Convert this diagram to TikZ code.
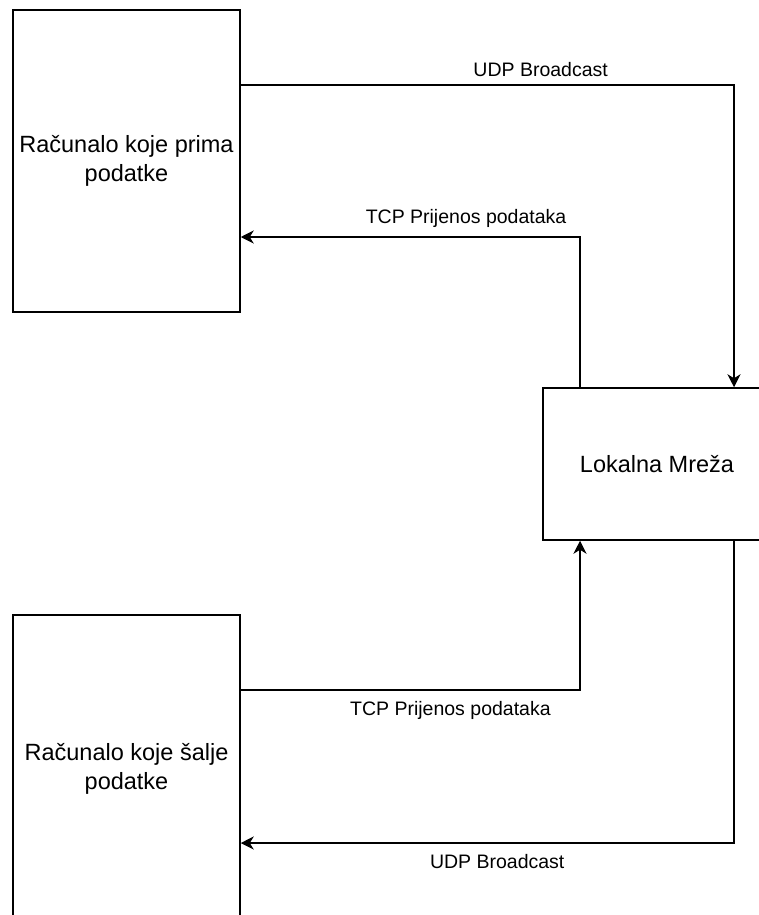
\documentclass[tikz,border=0pt]{standalone}
\usepackage{fontspec}
\setmainfont{Liberation Sans}
\usetikzlibrary{arrows.meta}
\tikzset{
  box/.style={draw, line width=1.5pt, align=center, inner sep=2pt, font=\fontsize{23.5}{28.5}\selectfont},
  link/.style={line width=1.5pt, -{Stealth[length=13pt,width=13pt,inset=4pt]}},
  lbl/.style={font=\fontsize{19.5}{22}\selectfont, inner sep=2pt}
}
\begin{document}
\begin{tikzpicture}[x=1pt, y=-1pt]
  \useasboundingbox (0,0) rectangle (759,915);
  \node[box, minimum width=227, minimum height=302] (prima) at (126.5,161) {Računalo koje prima\\podatke};
  \node[box, minimum width=227, minimum height=308] (salje) at (126.5,769) {Računalo koje šalje\\podatke};
  \node[box, minimum width=228, minimum height=152] (mreza) at (657,464) {Lokalna Mreža};
  \draw[link] ([yshift=76pt]prima.east) -| node[lbl,pos=0.304,above=6pt] {UDP Broadcast} ([xshift=77pt]mreza.north);
  \draw[link] ([xshift=-77pt]mreza.north) |- node[lbl,pos=0.668,above=7pt] {TCP Prijenos podataka} ([yshift=-76pt]prima.east);
  \draw[link] ([yshift=79pt]salje.east) -| node[lbl,pos=0.309,below=9pt] {TCP Prijenos podataka} ([xshift=-77pt]mreza.south);
  \draw[link] ([xshift=77pt]mreza.south) |- node[lbl,pos=0.74,below=9pt] {UDP Broadcast} ([yshift=-74pt]salje.east);
\end{tikzpicture}
\end{document}
